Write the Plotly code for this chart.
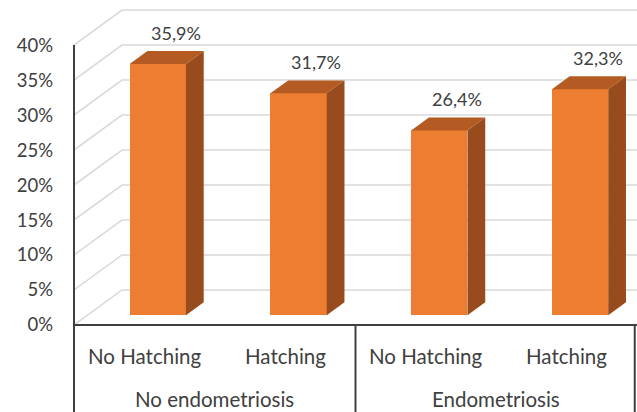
import plotly.graph_objects as go

# ---- data ----
groups = ["No endometriosis", "Endometriosis"]
categories = ["No Hatching", "Hatching", "No Hatching", "Hatching"]
group_of_category = [0, 0, 1, 1]
values = [35.9, 31.7, 26.4, 32.3]
value_labels = ["35,9%", "31,7%", "26,4%", "32,3%"]
y_ticks = [0, 5, 10, 15, 20, 25, 30, 35, 40]
y_tick_labels = ["0%", "5%", "10%", "15%", "20%", "25%", "30%", "35%", "40%"]

# ---- 3D (oblique) styling parameters ----
DEPTH_X = 0.341   # full floor depth, in category units
DEPTH_Y = 5.0     # full floor depth, in % units
FRONT = 0.28      # depth fraction of bar front face
THICK = 0.37      # bar depth as fraction of full depth
BAR_W = 0.4

FRONT_C = "#ED7D31"
TOP_C = "#B35B23"
SIDE_C = "#984C1D"
GRID_C = "#D9D9D9"
AXIS_C = "#404040"
TEXT_C = "#404040"
FONT = "Lato"

xs = list(range(len(categories)))
x_lo, x_hi = -0.5, len(categories) - 0.5

W, H = 637, 412
ML, MR, MT, MB = 74, 0, 9, 87
y_top = 45.15
plot_h = H - MT - MB

fig = go.Figure()

# bars: front faces
fx = [i + FRONT * DEPTH_X for i in xs]
fb = FRONT * DEPTH_Y
fig.add_trace(go.Bar(x=fx, y=values, base=fb, width=BAR_W,
                     marker=dict(color=FRONT_C, line=dict(width=0)),
                     hoverinfo="skip", showlegend=False))

ddx, ddy = THICK * DEPTH_X, THICK * DEPTH_Y
for cx, v in zip(fx, values):
    xl, xr = cx - BAR_W / 2, cx + BAR_W / 2
    top = fb + v
    # top face
    fig.add_trace(go.Scatter(x=[xl, xr, xr + ddx, xl + ddx, xl],
                             y=[top, top, top + ddy, top + ddy, top],
                             fill="toself", fillcolor=TOP_C, mode="lines",
                             line=dict(width=0, color=TOP_C), hoverinfo="skip", showlegend=False))
    # side face
    fig.add_trace(go.Scatter(x=[xr, xr, xr + ddx, xr + ddx, xr],
                             y=[fb, top, top + ddy, fb + ddy, fb],
                             fill="toself", fillcolor=SIDE_C, mode="lines",
                             line=dict(width=0, color=SIDE_C), hoverinfo="skip", showlegend=False))

# data labels (above the back of each bar)
for cx, v, lab in zip(fx, values, value_labels):
    fig.add_annotation(x=cx + ddx, y=fb + v + ddy, text=lab, showarrow=False,
                       yanchor="bottom", yshift=5,
                       font=dict(family=FONT, size=18, color=TEXT_C))

# category labels
for i, c in zip(xs, categories):
    fig.add_annotation(x=i, y=0, yref="paper", text=c, showarrow=False,
                       yanchor="middle", yshift=-31,
                       font=dict(family=FONT, size=20.5, color=TEXT_C))
for g, name in enumerate(groups):
    members = [i for i, gg in zip(xs, group_of_category) if gg == g]
    fig.add_annotation(x=sum(members) / len(members), y=0, yref="paper", text=name,
                       showarrow=False, yanchor="middle", yshift=-74,
                       font=dict(family=FONT, size=20.5, color=TEXT_C))


def paper_y(px_below_bottom):
    return -px_below_bottom / plot_h


shapes = []
# back wall + side wall gridlines (below the traces)
for v in y_ticks:
    shapes.append(dict(type="path", xref="x", yref="y", layer="below",
                       path=f"M {x_lo},{v} L {x_lo + DEPTH_X},{v + DEPTH_Y} L {x_hi},{v + DEPTH_Y}",
                       line=dict(color=GRID_C, width=1.5)))

# axis / divider lines (paper coordinates)
shapes += [
    dict(type="line", xref="paper", yref="paper", x0=0, x1=0,
         y0=y_ticks[-1] / y_top, y1=paper_y(MB), line=dict(color=AXIS_C, width=2)),
    dict(type="line", xref="paper", yref="paper", x0=0, x1=1, y0=0, y1=0,
         line=dict(color=AXIS_C, width=2)),
    dict(type="line", xref="paper", yref="paper", x0=0.5, x1=0.5, y0=0, y1=paper_y(MB),
         line=dict(color=AXIS_C, width=2)),
    dict(type="line", xref="paper", yref="paper", x0=0.996, x1=0.996, y0=0, y1=paper_y(MB),
         line=dict(color=AXIS_C, width=2)),
]

fig.update_layout(
    width=W, height=H,
    margin=dict(l=ML, r=MR, t=MT, b=MB, pad=0),
    paper_bgcolor="white", plot_bgcolor="white",
    showlegend=False, bargap=0,
    shapes=shapes,
    xaxis=dict(range=[x_lo, x_hi], showgrid=False, zeroline=False, showline=False,
               showticklabels=False, ticks="", fixedrange=True),
    yaxis=dict(range=[0, y_top], tickvals=y_ticks, ticktext=y_tick_labels,
               showgrid=False, zeroline=False, showline=False, ticks="",
               ticklabelstandoff=20,
               tickfont=dict(family=FONT, size=18.5, color=TEXT_C), fixedrange=True),
)

fig.write_html("out.html")
